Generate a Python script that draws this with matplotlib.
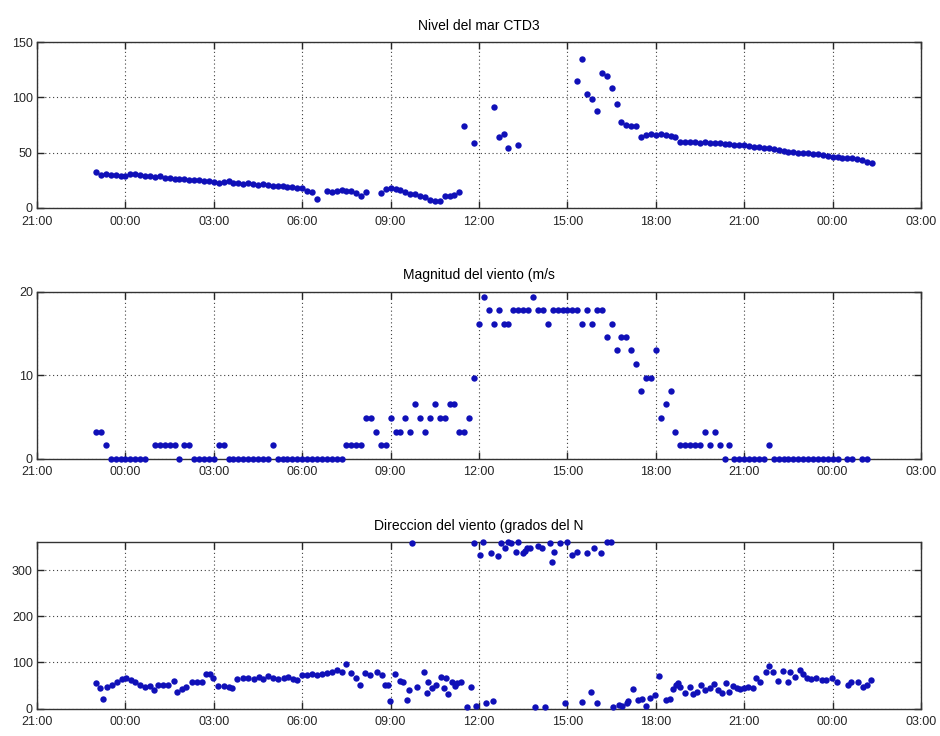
import numpy as np
import matplotlib
matplotlib.use('Agg')
import matplotlib.pyplot as plt

nan = np.nan

# Nivel del mar, una muestra cada 10 min a partir de las 23:00 (una fila por hora)
nivel = [
    32.5, 30.0, 30.5, 29.5, 30.0, 29.0,   # 23:00
    29.0, 30.5, 31.0, 30.0, 29.0, 28.5,   # 00:00
    28.0, 28.5, 27.5, 27.0, 26.5, 26.5,   # 01:00
    26.0, 25.5, 25.0, 25.5, 24.5, 24.0,   # 02:00
    23.5, 23.0, 23.5, 24.5, 23.0, 22.5,   # 03:00
    22.0, 22.5, 21.5, 21.0, 21.5, 20.5,   # 04:00
    20.0, 20.0, 19.5, 19.0, 19.0, 18.5,   # 05:00
    18.0, 15.0, 14.5, 8.5, nan, 15.5,     # 06:00
    14.5, 15.0, 16.0, 15.0, 15.5, 14.0,   # 07:00
    11.0, 14.5, nan, nan, 14.0, 17.5,     # 08:00
    18.5, 17.0, 16.0, 14.5, 13.0, 12.5,   # 09:00
    11.0, 10.0, 7.0, 6.0, 6.5, 10.5,      # 10:00
    11.0, 12.0, 14.5, 74.0, nan, 59.0,    # 11:00
    nan, nan, nan, 91.0, 64.0, 67.0,      # 12:00
    54.0, nan, 57.0, nan, nan, nan,       # 13:00
    nan, nan, nan, nan, nan, nan,         # 14:00
    nan, nan, 115.0, 135.0, 103.0, 98.5,  # 15:00
    88.0, 122.0, 119.5, 108.0, 94.0, 78.0,  # 16:00
    75.0, 74.0, 74.0, 64.0, 66.0, 66.5,   # 17:00
    66.0, 66.5, 66.0, 65.5, 64.5, 60.0,   # 18:00
    59.5, 59.5, 60.0, 59.0, 59.5, 58.5,   # 19:00
    59.0, 58.5, 58.0, 57.5, 56.5, 57.0,   # 20:00
    56.5, 56.0, 55.5, 55.5, 54.5, 54.0,   # 21:00
    53.0, 52.5, 51.5, 51.0, 50.5, 50.0,   # 22:00
    49.5, 49.5, 49.0, 48.5, 47.5, 47.0,   # 23:00
    46.5, 46.0, 45.5, 45.0, 45.0, 44.5,   # 00:00
    43.0, 42.0, 41.0,                     # 01:00
]

# Magnitud del viento (m/s), mismas horas
viento = [
    3.2, 3.2, 1.6, 0, 0, 0,               # 23:00
    0, 0, 0, 0, 0, nan,                   # 00:00
    1.6, 1.6, 1.6, 1.6, 1.6, 0,           # 01:00
    1.6, 1.6, 0, 0, 0, 0,                 # 02:00
    0, 1.6, 1.6, 0, 0, 0,                 # 03:00
    0, 0, 0, 0, 0, 0,                     # 04:00
    1.6, 0, 0, 0, 0, 0,                   # 05:00
    0, 0, 0, 0, 0, 0,                     # 06:00
    0, 0, 0, 1.6, 1.6, 1.6,               # 07:00
    1.6, 4.9, 4.9, 3.2, 1.6, 1.6,         # 08:00
    4.9, 3.2, 3.2, 4.9, 3.2, 6.5,         # 09:00
    4.9, 3.2, 4.9, 6.5, 4.9, 4.9,         # 10:00
    6.5, 6.5, 3.2, 3.2, 4.9, 9.7,         # 11:00
    16.2, 19.4, 17.8, 16.2, 17.8, 16.2,   # 12:00
    16.2, 17.8, 17.8, 17.8, 17.8, 19.4,   # 13:00
    17.8, 17.8, 16.2, 17.8, 17.8, 17.8,   # 14:00
    17.8, 17.8, 17.8, 16.2, 17.8, 16.2,   # 15:00
    17.8, 17.8, 14.6, 16.2, 13.0, 14.6,   # 16:00
    14.6, 13.0, 11.4, 8.1, 9.7, 9.7,      # 17:00
    13.0, 4.9, 6.5, 8.1, 3.2, 1.6,        # 18:00
    1.6, 1.6, 1.6, 1.6, 3.2, 1.6,         # 19:00
    3.2, 1.6, 0, 1.6, 0, 0,               # 20:00
    0, 0, 0, 0, 0, 1.6,                   # 21:00
    0, 0, 0, 0, 0, 0,                     # 22:00
    0, 0, 0, 0, 0, 0,                     # 23:00
    0, 0, nan, 0, 0, nan,                 # 00:00
    0, 0, nan,                            # 01:00
]

# Direccion del viento: minutos desde las 23:00 y grados desde el N
dir_min = [
    0, 8, 14, 22, 32, 42, 52, 61, 71, 80, 90, 100, 110, 118, 127, 137, 147,
    159, 164, 175, 183, 195, 205, 215, 224, 232, 239, 248, 260, 270, 278,
    287, 300, 310, 321, 331, 341, 351, 361, 371, 382, 392, 402, 410, 419,
    429, 440, 450, 460, 470, 480, 490, 500, 510, 519, 530, 538, 548, 558,
    572, 582, 589, 595, 599, 609, 619, 625, 634, 638, 644, 654, 667, 675,
    677, 684, 692, 702, 709, 713, 717, 724, 731, 736, 743, 755, 763, 770,
    774, 781, 789, 794, 804, 809, 819, 824, 833, 840, 846, 855, 860, 869,
    874, 878, 884, 894, 901, 908, 914, 925, 928, 933, 945, 955, 960, 969,
    980, 989, 999, 1007, 1014, 1021, 1028, 1040, 1048, 1053, 1066, 1072,
    1081, 1084, 1094, 1104, 1111, 1120, 1128, 1138, 1147, 1161, 1169, 1176,
    1181, 1186, 1190, 1199, 1209, 1216, 1223, 1233, 1240, 1250, 1258, 1267,
    1274, 1283, 1290, 1298, 1305, 1311, 1319, 1328, 1338, 1345, 1353, 1364,
    1370, 1379, 1389, 1398, 1410, 1413, 1423, 1433, 1440, 1448, 1457, 1466,
    1478, 1486, 1498, 1509, 1532, 1537, 1552, 1561, 1569, 1579,
]
dir_grados = [
    55, 44, 21, 47, 51, 58, 64, 67, 62, 58, 52, 47, 50, 40, 51, 51, 51,
    60, 37, 42, 47, 58, 57, 58, 76, 74, 67, 50, 50, 47, 44,
    65, 67, 67, 65, 69, 65, 71, 67, 64, 67, 69, 65, 62, 73,
    73, 74, 73, 74, 78, 80, 83, 80, 96, 78, 67, 52, 78, 73,
    80, 73, 51, 51, 17, 76, 60, 57, 19, 40, 358, 48, 80, 33,
    58, 44, 51, 69, 45, 66, 31, 58, 50, 55, 57, 4, 48, 358,
    6, 332, 360, 13, 336, 17, 331, 358, 348, 360, 358, 338, 360, 336,
    341, 347, 348, 4, 351, 348, 4, 358, 318, 340, 358, 12, 360, 332,
    338, 15, 336, 37, 348, 12, 336, 360, 360, 4, 8, 6,
    12, 17, 42, 19, 22, 5, 24, 29, 71, 19, 22, 42,
    51, 55, 48, 33, 48, 31, 37, 51, 40, 44, 53, 40,
    33, 55, 37, 50, 44, 42, 44, 48, 44, 67, 58, 79,
    93, 79, 60, 82, 58, 79, 69, 84, 74, 66, 64, 66,
    62, 62, 66, 57, 51, 58, 58, 48, 51, 62,
]

etiquetas_hora = ['21:00', '00:00', '03:00', '06:00', '09:00', '12:00',
                  '15:00', '18:00', '21:00', '00:00', '03:00']
titulos = ['Nivel del mar CTD3', 'Magnitud del viento (m/s',
           'Direccion del viento (grados del N']
limites_y = [(0, 150), (0, 20), (0, 360)]
ticks_y = [[0, 50, 100, 150], [0, 10, 20], [0, 100, 200, 300]]

plt.rcParams['font.family'] = ['Liberation Sans Narrow', 'Liberation Sans', 'DejaVu Sans']

# horas contadas desde las 21:00 del primer dia
t_serie = 2 + np.arange(len(nivel)) / 6.0
t_dir = 2 + np.array(dir_min) / 60.0

series = [(t_serie, nivel), (t_serie, viento), (t_dir, dir_grados)]

fig = plt.figure(figsize=(9.4, 7.36), dpi=100)
posiciones = [[0.0394, 0.7174, 0.9404, 0.2255],
              [0.0394, 0.3768, 0.9404, 0.2265],
              [0.0394, 0.0371, 0.9404, 0.2261]]

for i in range(3):
    ax = fig.add_axes(posiciones[i])
    x, y = series[i]
    ax.plot(x, y, 'o', color='#1010b8', markersize=4.6, markeredgewidth=0,
            clip_on=False, zorder=3)
    ax.set_xlim(0, 30)
    ax.set_ylim(*limites_y[i])
    ax.set_xticks(range(0, 31, 3))
    ax.set_xticklabels(etiquetas_hora)
    ax.set_yticks(ticks_y[i])
    ax.grid(True, linestyle=(0, (1, 2.5)), color='0.25', linewidth=0.8)
    ax.tick_params(direction='in', length=5, width=1, top=True, right=True,
                   labelsize=9, colors='0.15')
    ax.tick_params(axis='x', pad=5.5)
    ax.tick_params(axis='y', pad=3)
    for lado in ax.spines.values():
        lado.set_linewidth(1.0)
        lado.set_color('0.2')
    ax.set_title(titulos[i], fontsize=10, pad=9)

plt.savefig('out.png', dpi=100)
plt.close()
